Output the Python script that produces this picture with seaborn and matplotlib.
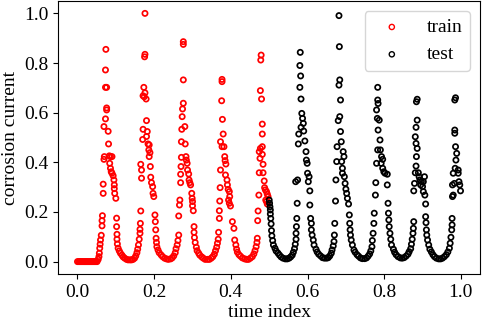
import matplotlib
matplotlib.use("Agg")
import matplotlib.pyplot as plt
import seaborn as sns
import pandas as pd

# ---- data ----
train_time = [
    0.000, 0.003, 0.006, 0.009, 0.012, 0.015, 0.018, 0.021, 0.024, 0.027, 0.030, 0.033, 0.036, 0.039, 0.042, 0.045, 0.048, 0.051,
    0.054, 0.056, 0.057, 0.058, 0.059, 0.060, 0.062, 0.064, 0.064, 0.065, 0.067, 0.067, 0.069, 0.070, 0.069, 0.073, 0.076, 0.076, 0.073, 0.076, 0.073, 0.074,
    0.080, 0.081, 0.083, 0.086, 0.090, 0.084, 0.086, 0.088, 0.090, 0.093, 0.095, 0.096, 0.096, 0.097, 0.100, 0.102, 0.102, 0.103, 0.103, 0.104, 0.106,
    0.109, 0.112, 0.116, 0.119, 0.123, 0.128, 0.132, 0.137, 0.141, 0.145, 0.149, 0.152, 0.155, 0.157, 0.159, 0.161, 0.163, 0.163, 0.164, 0.165,
    0.167, 0.167, 0.165, 0.170, 0.171, 0.174, 0.171, 0.173, 0.176, 0.179, 0.175, 0.176, 0.176,
    0.180, 0.182, 0.180, 0.184, 0.187, 0.186, 0.189, 0.187, 0.190, 0.191, 0.193, 0.196, 0.197, 0.199, 0.202, 0.203, 0.204,
    0.205, 0.206, 0.207, 0.210, 0.213, 0.218, 0.222, 0.227, 0.232, 0.237, 0.243, 0.247, 0.251, 0.255, 0.257, 0.260, 0.262, 0.264,
    0.264, 0.266, 0.267, 0.269, 0.269, 0.270, 0.271, 0.271, 0.272, 0.273, 0.274, 0.276, 0.280, 0.281, 0.276, 0.276, 0.276,
    0.283, 0.284, 0.286, 0.287, 0.290, 0.291, 0.293, 0.295, 0.298, 0.299, 0.300, 0.300, 0.302, 0.304, 0.304, 0.305, 0.307, 0.310,
    0.312, 0.316, 0.319, 0.324, 0.328, 0.333, 0.339, 0.344, 0.349, 0.353, 0.357, 0.360, 0.363, 0.365, 0.367, 0.368,
    0.370, 0.370, 0.371, 0.372, 0.373, 0.373, 0.377, 0.380, 0.378, 0.376, 0.377, 0.377,
    0.382, 0.384, 0.385, 0.387, 0.386, 0.390, 0.391, 0.393, 0.396, 0.397, 0.394, 0.396, 0.399, 0.404, 0.408, 0.410, 0.413,
    0.415, 0.417, 0.421, 0.425, 0.430, 0.436, 0.441, 0.446, 0.451, 0.456, 0.460, 0.463, 0.466, 0.468, 0.469,
    0.470, 0.471, 0.473, 0.474, 0.476, 0.474, 0.477, 0.482, 0.482, 0.482, 0.482, 0.480, 0.477, 0.478, 0.479,
    0.484, 0.484, 0.487, 0.488, 0.490, 0.493, 0.495, 0.497, 0.491, 0.493, 0.495,
]
train_current = [
    0.0, 0.0, 0.0, 0.0, 0.0, 0.0, 0.0, 0.0, 0.0, 0.0, 0.0, 0.0, 0.0, 0.0, 0.0, 0.0, 0.0, 0.0,
    0.009, 0.020, 0.034, 0.054, 0.070, 0.087, 0.106, 0.144, 0.165, 0.185, 0.275, 0.312, 0.412, 0.423, 0.544, 0.575, 0.611, 0.619, 0.702, 0.702, 0.772, 0.855,
    0.525, 0.474, 0.426, 0.423, 0.423, 0.396, 0.376, 0.362, 0.356, 0.346, 0.329, 0.309, 0.294, 0.275, 0.255, 0.175, 0.141, 0.110, 0.090, 0.071, 0.054,
    0.043, 0.034, 0.026, 0.019, 0.014, 0.009, 0.007, 0.007, 0.007, 0.009, 0.014, 0.023, 0.036, 0.050, 0.067, 0.090, 0.114, 0.130, 0.154, 0.204,
    0.336, 0.369, 0.392, 0.492, 0.533, 0.664, 0.668, 0.702, 0.680, 0.655, 0.825, 0.835, 1.000,
    0.568, 0.524, 0.504, 0.474, 0.470, 0.450, 0.439, 0.423, 0.383, 0.340, 0.318, 0.302, 0.275, 0.262, 0.188, 0.161, 0.128,
    0.094, 0.077, 0.060, 0.047, 0.036, 0.027, 0.020, 0.014, 0.011, 0.009, 0.011, 0.015, 0.023, 0.036, 0.052, 0.067, 0.085, 0.107,
    0.184, 0.228, 0.248, 0.318, 0.352, 0.383, 0.420, 0.483, 0.533, 0.584, 0.615, 0.638, 0.544, 0.474, 0.732, 0.875, 0.886,
    0.423, 0.409, 0.396, 0.369, 0.353, 0.329, 0.318, 0.309, 0.275, 0.255, 0.242, 0.225, 0.205, 0.141, 0.118, 0.097, 0.077, 0.058,
    0.044, 0.034, 0.026, 0.019, 0.014, 0.009, 0.009, 0.009, 0.014, 0.020, 0.030, 0.044, 0.058, 0.074, 0.090, 0.118,
    0.174, 0.205, 0.244, 0.298, 0.369, 0.483, 0.463, 0.514, 0.573, 0.648, 0.725, 0.734,
    0.463, 0.423, 0.407, 0.393, 0.349, 0.329, 0.309, 0.291, 0.282, 0.262, 0.248, 0.235, 0.224, 0.161, 0.134, 0.087, 0.067,
    0.050, 0.038, 0.028, 0.022, 0.015, 0.011, 0.009, 0.009, 0.014, 0.020, 0.031, 0.044, 0.060, 0.077, 0.094,
    0.165, 0.204, 0.268, 0.358, 0.416, 0.443, 0.456, 0.463, 0.432, 0.514, 0.554, 0.655, 0.689, 0.812, 0.832,
    0.392, 0.358, 0.325, 0.298, 0.289, 0.282, 0.272, 0.262, 0.248, 0.242, 0.232,
]

test_time = [
    0.500, 0.501, 0.502, 0.503, 0.503, 0.504, 0.505, 0.506, 0.507, 0.509, 0.511, 0.515,
    0.518, 0.523, 0.527, 0.531, 0.536, 0.542, 0.547, 0.552, 0.556, 0.560, 0.563, 0.566, 0.568, 0.570, 0.570,
    0.571, 0.572, 0.573, 0.569, 0.574, 0.576, 0.577, 0.583, 0.587, 0.589, 0.585, 0.583, 0.580, 0.582, 0.580, 0.581,
    0.590, 0.593, 0.596, 0.597, 0.599, 0.600, 0.604, 0.602, 0.606, 0.606, 0.608, 0.610, 0.610, 0.612, 0.615, 0.617, 0.622,
    0.625, 0.629, 0.634, 0.639, 0.644, 0.650, 0.654, 0.658, 0.662, 0.664, 0.667, 0.669, 0.670,
    0.671, 0.673, 0.674, 0.676, 0.677, 0.680, 0.684, 0.686, 0.688, 0.686, 0.682, 0.684, 0.683, 0.682,
    0.689, 0.691, 0.693, 0.695, 0.691, 0.696, 0.698, 0.700, 0.702, 0.704, 0.707, 0.709, 0.710, 0.711, 0.712, 0.714, 0.717, 0.721,
    0.724, 0.729, 0.733, 0.738, 0.743, 0.749, 0.754, 0.758, 0.762, 0.765, 0.768, 0.769, 0.771,
    0.773, 0.774, 0.777, 0.778, 0.780, 0.783, 0.784, 0.787, 0.782, 0.780, 0.783, 0.784, 0.783,
    0.789, 0.790, 0.793, 0.796, 0.792, 0.796, 0.799, 0.802, 0.808, 0.808, 0.810, 0.811, 0.812, 0.813, 0.815, 0.817, 0.819, 0.824,
    0.827, 0.831, 0.836, 0.842, 0.847, 0.852, 0.857, 0.862, 0.865, 0.869, 0.871, 0.873, 0.875,
    0.876, 0.877, 0.877, 0.879, 0.881, 0.883, 0.884, 0.886, 0.883, 0.881, 0.883, 0.886, 0.884, 0.886,
    0.889, 0.891, 0.893, 0.897, 0.895, 0.900, 0.902, 0.905, 0.902, 0.906, 0.908, 0.908, 0.909, 0.910, 0.911, 0.913, 0.916, 0.919,
    0.923, 0.927, 0.931, 0.936, 0.942, 0.947, 0.952, 0.957, 0.962, 0.966, 0.970, 0.972, 0.974, 0.976,
    0.977, 0.977, 0.978, 0.980, 0.978, 0.983, 0.980, 0.985, 0.987, 0.989, 0.986, 0.984, 0.984, 0.984, 0.986,
    0.993, 0.993, 0.995, 0.997, 0.999,
]
test_current = [
    0.248, 0.235, 0.221, 0.208, 0.192, 0.174, 0.152, 0.125, 0.104, 0.085, 0.067, 0.054,
    0.043, 0.034, 0.026, 0.019, 0.014, 0.011, 0.011, 0.014, 0.019, 0.026, 0.038, 0.052, 0.070, 0.090, 0.114,
    0.141, 0.174, 0.235, 0.322, 0.329, 0.474, 0.514, 0.541, 0.577, 0.557, 0.597, 0.655, 0.702, 0.748, 0.790, 0.843,
    0.526, 0.486, 0.443, 0.409, 0.396, 0.356, 0.342, 0.322, 0.285, 0.228, 0.174, 0.154, 0.128, 0.107, 0.087, 0.067, 0.050,
    0.039, 0.030, 0.023, 0.016, 0.014, 0.014, 0.016, 0.023, 0.034, 0.047, 0.063, 0.081, 0.107,
    0.154, 0.244, 0.329, 0.403, 0.463, 0.568, 0.584, 0.524, 0.483, 0.651, 0.711, 0.732, 0.866, 0.991,
    0.403, 0.376, 0.443, 0.423, 0.356, 0.342, 0.315, 0.292, 0.275, 0.255, 0.232, 0.188, 0.154, 0.128, 0.107, 0.087, 0.067, 0.047,
    0.038, 0.028, 0.022, 0.015, 0.012, 0.012, 0.015, 0.022, 0.031, 0.043, 0.060, 0.085, 0.114,
    0.154, 0.195, 0.268, 0.318, 0.396, 0.450, 0.530, 0.570, 0.577, 0.611, 0.651, 0.637, 0.702,
    0.490, 0.450, 0.423, 0.412, 0.396, 0.376, 0.362, 0.356, 0.352, 0.309, 0.235, 0.195, 0.168, 0.141, 0.114, 0.090, 0.067, 0.050,
    0.038, 0.028, 0.020, 0.015, 0.014, 0.016, 0.022, 0.030, 0.040, 0.052, 0.070, 0.090, 0.114,
    0.134, 0.161, 0.285, 0.315, 0.358, 0.385, 0.423, 0.456, 0.476, 0.503, 0.541, 0.570, 0.644, 0.654,
    0.358, 0.342, 0.329, 0.322, 0.309, 0.302, 0.322, 0.342, 0.282, 0.268, 0.232, 0.181, 0.157, 0.128, 0.107, 0.087, 0.067, 0.050,
    0.039, 0.028, 0.020, 0.014, 0.011, 0.011, 0.014, 0.020, 0.028, 0.039, 0.054, 0.074, 0.098, 0.128,
    0.148, 0.174, 0.262, 0.268, 0.309, 0.315, 0.356, 0.376, 0.409, 0.436, 0.463, 0.517, 0.530, 0.651, 0.660,
    0.369, 0.356, 0.322, 0.309, 0.285,
]

series_labels = ["train", "test"]
series_colors = ["red", "black"]
tick_values = [0.0, 0.2, 0.4, 0.6, 0.8, 1.0]

# ---- style ----
plt.rcParams["font.family"] = ["Liberation Serif", "DejaVu Serif"]
plt.rcParams["font.size"] = 14

fig = plt.figure(figsize=(4.82, 3.22), dpi=100)
ax = fig.add_axes([0.121, 0.149, 0.875, 0.848])

df_train = pd.DataFrame({"time index": train_time, "corrosion current": train_current})
df_test = pd.DataFrame({"time index": test_time, "corrosion current": test_current})

for df, lab, col in zip([df_train, df_test], series_labels, series_colors):
    sns.scatterplot(data=df, x="time index", y="corrosion current", ax=ax,
                    color=col, s=14, linewidth=1.25, label=lab)

for coll, col in zip(ax.collections, series_colors):
    coll.set_edgecolor(col)
    coll.set_facecolor("none")

ax.set_xlim(-0.05, 1.05)
ax.set_ylim(-0.05, 1.05)
ax.set_xticks(tick_values)
ax.set_yticks(tick_values)
ax.set_xticklabels([f"{v:.1f}" for v in tick_values])
ax.set_yticklabels([f"{v:.1f}" for v in tick_values])
ax.tick_params(labelsize=14, length=3.5, width=0.8, colors="black")
for sp in ax.spines.values():
    sp.set_color("black")
    sp.set_linewidth(0.8)

ax.set_xlabel("time index", fontsize=14, labelpad=2)
ax.set_ylabel("corrosion current", fontsize=14, labelpad=4)

leg = ax.legend(loc="upper right", fontsize=14, frameon=True)
for h in leg.legend_handles:
    try:
        h.set_facecolor("none")
        h.set_linewidth(1.0)
    except Exception:
        pass

fig.savefig("out.png", dpi=100)
